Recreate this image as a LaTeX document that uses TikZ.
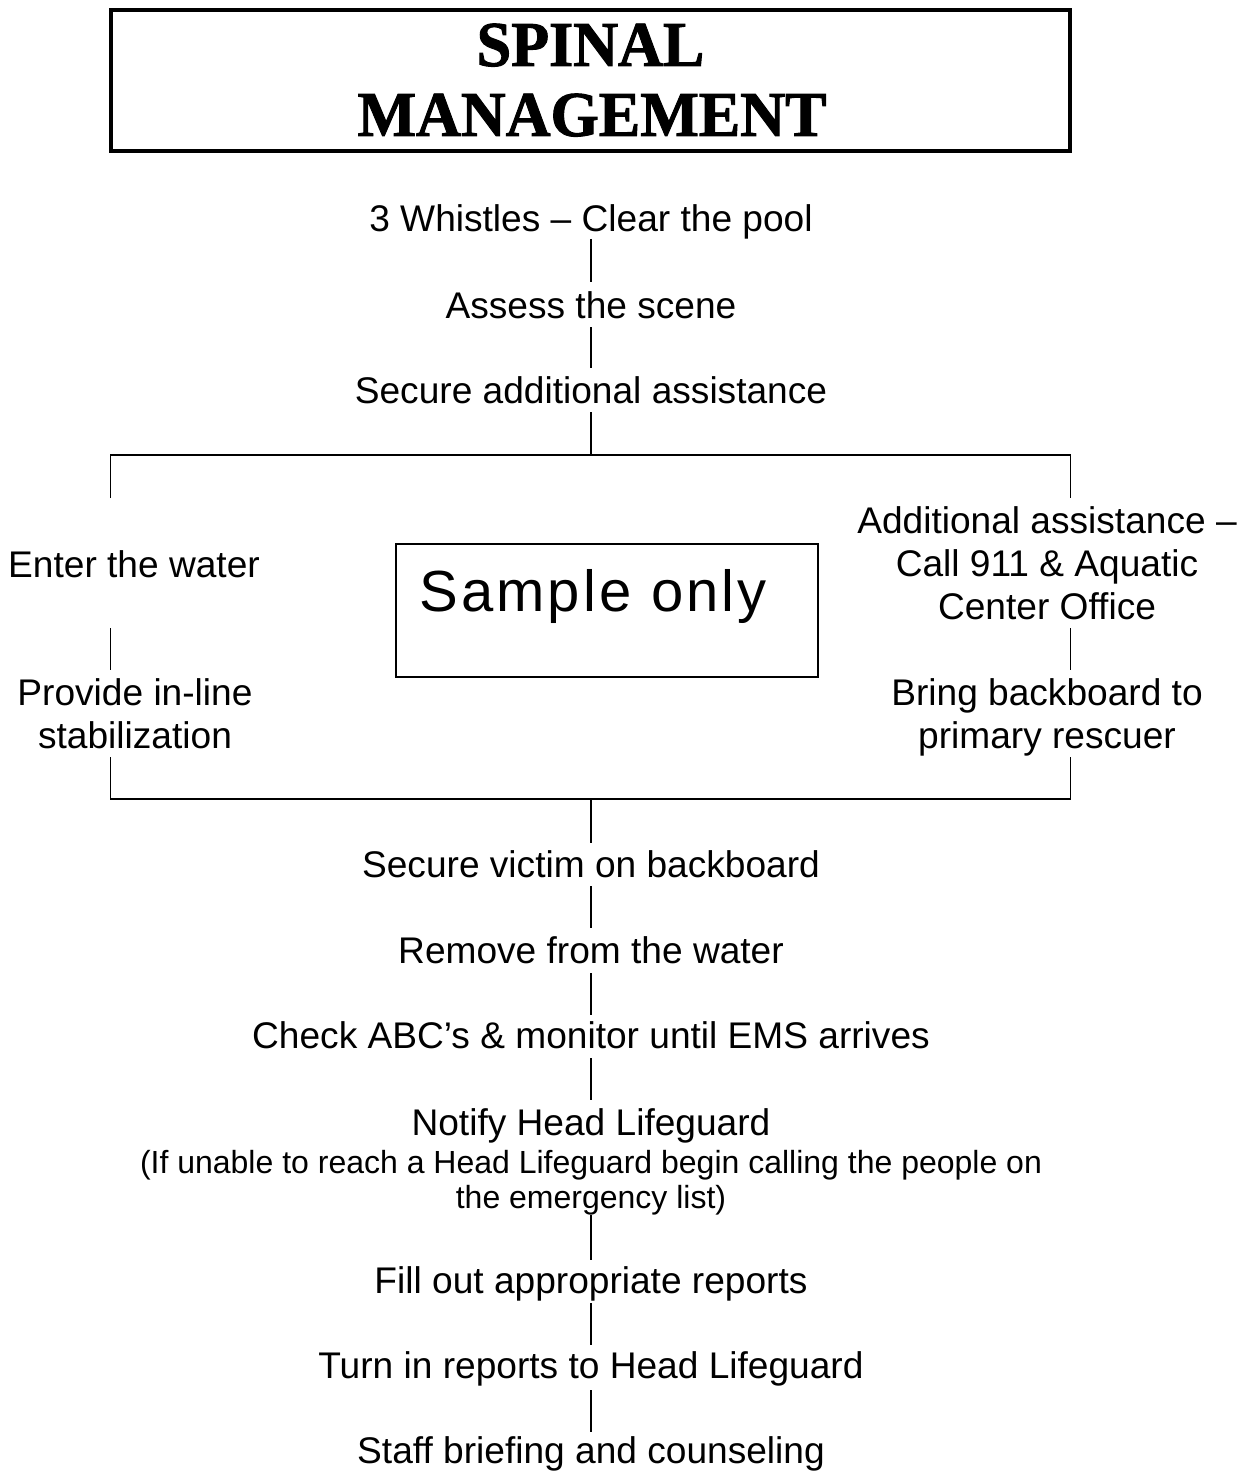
\documentclass[tikz,border=0pt]{standalone}
\usepackage{fontspec}
\setmainfont{Liberation Sans}
\newfontfamily\titlefont{Liberation Serif}[FakeStretch=0.97,FakeBold=1.5]
\newfontfamily\samplefont{Liberation Sans}[LetterSpace=5.5]
\newcommand{\mlines}[1]{\begin{tabular}[t]{@{}c@{}}#1\end{tabular}}
\begin{document}
\begin{tikzpicture}[x=1pt,y=-1pt,
  lbl/.style={inner sep=0pt, anchor=base, font=\fontsize{37.1}{43}\selectfont},
  smalllbl/.style={inner sep=0pt, anchor=base, font=\fontsize{32}{35}\selectfont},
  titletxt/.style={inner sep=0pt, anchor=base, font=\titlefont\bfseries\fontsize{64}{72}\selectfont},
  conn/.style={line width=1.8pt}]
\useasboundingbox (0,0) rectangle (1249,1471);

% title
\node[draw, line width=4pt, minimum width=959, minimum height=141, inner sep=0pt] (titlebox) at (590.5,80.5) {};
\node[titletxt] (title1) at (590.5,66) {SPINAL};
\node[titletxt] (title2) at (592,136) {MANAGEMENT};

% main column, top
\node[lbl] (n1) at (591,232) {3 Whistles – Clear the pool};
\node[lbl] (n2) at (591,318) {Assess the scene};
\node[lbl] (n3) at (591,403) {Secure additional assistance};

% branches
\node[lbl] (enter) at (134,577) {Enter the water};
\node[lbl] (provide) at (135,705) {\mlines{Provide in-line\\stabilization}};
\node[lbl] (addl) at (1047,533) {\mlines{Additional assistance –\\Call 911 \& Aquatic\\Center Office}};
\node[lbl] (bring) at (1047,705) {\mlines{Bring backboard to\\primary rescuer}};

% sample box
\node[draw, line width=1.5pt, minimum width=422, minimum height=133, inner sep=0pt] (samplebox) at (607,610.5) {};
\node[inner sep=0pt, anchor=base west, font=\samplefont\fontsize{58}{64}\selectfont] (sampletext) at (419,611) {Sample only};

% main column, bottom
\node[lbl] (n4) at (591,877) {Secure victim on backboard};
\node[lbl] (n5) at (591,963) {Remove from the water};
\node[lbl] (n6) at (591,1048) {Check ABC’s \& monitor until EMS arrives};
\node[lbl] (n7) at (591,1135) {Notify Head Lifeguard};
\node[smalllbl] (note) at (591,1173) {\mlines{(If unable to reach a Head Lifeguard begin calling the people on\\the emergency list)}};
\node[lbl] (n8) at (591,1293) {Fill out appropriate reports};
\node[lbl] (n9) at (591,1378) {Turn in reports to Head Lifeguard};
\node[lbl] (n10) at (591,1463) {Staff briefing and counseling};

% coordinates of the brackets
\coordinate (top) at (591,455);
\coordinate (tl) at (110.5,455);
\coordinate (tr) at (1070.5,455);
\coordinate (tlend) at (110.5,498);
\coordinate (trend) at (1070.5,498);
\coordinate (bot) at (591,799);
\coordinate (bl) at (110.5,799);
\coordinate (br) at (1070.5,799);

% connectors
\draw[conn] ([yshift=-7pt]n1.base) -- ([yshift=36pt]n2.base);
\draw[conn] ([yshift=-9pt]n2.base) -- ([yshift=35pt]n3.base);
\draw[conn] ([yshift=-9pt]n3.base) -- (top);
\draw[conn] (tlend) -- (tl) -- (tr) -- (trend);
\draw[conn] ([yshift=-51pt]enter.base -| tl) -- ([yshift=35pt]provide.base -| tl);
\draw[conn] ([yshift=-95pt]addl.base -| tr) -- ([yshift=35pt]bring.base -| tr);
\draw[conn] ([yshift=-52pt]provide.base -| bl) -- (bl) -- (br) -- ([yshift=-52pt]bring.base -| br);
\draw[conn] (bot) -- ([yshift=34pt]n4.base);
\draw[conn] ([yshift=-9pt]n4.base) -- ([yshift=35pt]n5.base);
\draw[conn] ([yshift=-10pt]n5.base) -- ([yshift=33pt]n6.base);
\draw[conn] ([yshift=-10pt]n6.base) -- ([yshift=35pt]n7.base);
\draw[conn] ([yshift=-42pt]note.base) -- ([yshift=33pt]n8.base);
\draw[conn] ([yshift=-10pt]n8.base) -- ([yshift=33pt]n9.base);
\draw[conn] ([yshift=-12pt]n9.base) -- ([yshift=31pt]n10.base);
\end{tikzpicture}
\end{document}
